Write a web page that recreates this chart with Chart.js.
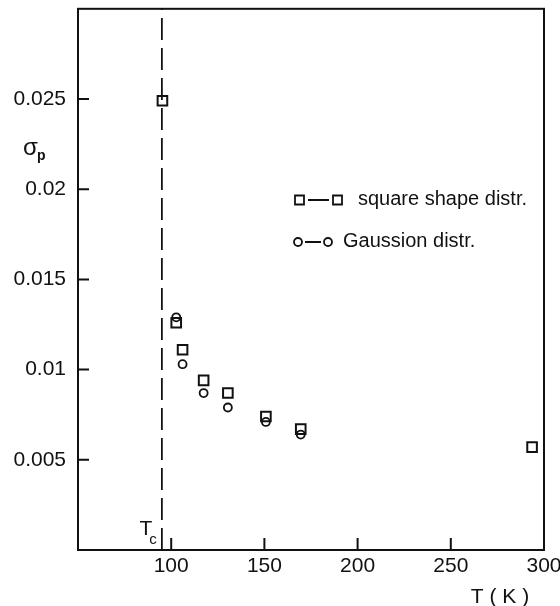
<!DOCTYPE html>
<html><head><meta charset="utf-8">
<script src="https://cdn.jsdelivr.net/npm/chart.js@4.4.1/dist/chart.umd.min.js"></script>
<style>html,body{margin:0;padding:0;background:#fff}canvas{display:block}</style>
</head><body>
<canvas id="c" width="560" height="606"></canvas>
<script>
// ---- data ----
const TC = 95;                                   // dashed critical-temperature line (K)
const squareT     = [95.3, 102.7, 106.1, 117.4, 130.4, 150.8, 169.5, 293.6];
const squareSigma = [0.0249, 0.0126, 0.0111, 0.0094, 0.0087, 0.0074, 0.0067, 0.0057];
const gaussT      = [102.7, 106.1, 117.4, 130.4, 150.8, 169.5];
const gaussSigma  = [0.0129, 0.0103, 0.0087, 0.0079, 0.0071, 0.0064];
const seriesLabels = ['square shape distr.', 'Gaussion distr.'];
const xTicks = [100, 150, 200, 250, 300];
const yTicks = [0.005, 0.01, 0.015, 0.02, 0.025];
const yTickLabels = ['0.005', '0.01', '0.015', '0.02', '0.025'];

const FONT = "'Liberation Sans', Arial, sans-serif";
const INK = '#111';

const pts = (xs, ys) => xs.map((x, i) => ({x, y: ys[i]}));
const noPad = s => { s.paddingLeft = 0; s.paddingRight = 0; s.paddingTop = 0; s.paddingBottom = 0; };

const decor = {
  id: 'decor',
  beforeDatasetsDraw(chart) {
    const {ctx, chartArea: a, scales: {x, y}} = chart;
    ctx.save();
    ctx.strokeStyle = INK;
    ctx.lineWidth = 2;
    ctx.strokeRect(a.left, a.top, a.right - a.left, a.bottom - a.top);
    ctx.beginPath();
    xTicks.forEach(v => { const px = x.getPixelForValue(v); ctx.moveTo(px, a.bottom); ctx.lineTo(px, a.bottom - 12); });
    yTicks.forEach(v => { const py = y.getPixelForValue(v); ctx.moveTo(a.left, py); ctx.lineTo(a.left + 11, py); });
    ctx.stroke();
    ctx.restore();
  },
  afterDraw(chart) {
    const {ctx} = chart;
    ctx.save();
    ctx.fillStyle = INK; ctx.strokeStyle = INK;
    ctx.textBaseline = 'middle';
    ctx.textAlign = 'left';
    ctx.font = '24px ' + FONT;
    ctx.fillText('σ', 23, 148);
    ctx.font = 'bold 14px ' + FONT;
    ctx.fillText('p', 37, 156);
    ctx.font = '21px ' + FONT;
    ctx.textAlign = 'center';
    ctx.fillText('T ( K )', 500, 597);
    ctx.font = '21px ' + FONT;
    ctx.fillText('T', 146, 529);
    ctx.font = '15px ' + FONT;
    ctx.fillText('c', 153, 540);
    // legend
    const rows = [200, 242];
    ctx.lineWidth = 1.8;
    chart.data.datasets.slice(0, 2).forEach((ds, i) => {
      const yy = rows[i];
      ctx.beginPath();
      if (ds.pointStyle === 'rect') {
        ctx.rect(295, yy - 4.5, 9, 9);
        ctx.rect(333, yy - 4.5, 9, 9);
        ctx.moveTo(308, yy); ctx.lineTo(329, yy);
      } else {
        ctx.moveTo(302, yy); ctx.arc(298, yy, 4, 0, Math.PI * 2);
        ctx.moveTo(332, yy); ctx.arc(328, yy, 4, 0, Math.PI * 2);
        ctx.moveTo(305, yy); ctx.lineTo(321, yy);
      }
      ctx.stroke();
      ctx.textAlign = 'left';
      ctx.font = '20px ' + FONT;
      ctx.fillText(ds.label, i === 0 ? 358 : 343, yy - 1);
    });
    ctx.restore();
  }
};

new Chart(document.getElementById('c'), {
  type: 'scatter',
  data: {
    datasets: [
      { label: seriesLabels[0], data: pts(squareT, squareSigma), pointStyle: 'rect',
        pointRadius: 6.8, borderColor: INK, backgroundColor: 'rgba(0,0,0,0)', borderWidth: 2, showLine: false },
      { label: seriesLabels[1], data: pts(gaussT, gaussSigma), pointStyle: 'circle',
        pointRadius: 4, borderColor: INK, backgroundColor: 'rgba(0,0,0,0)', borderWidth: 1.8, showLine: false },
      { label: 'Tc', type: 'line', data: [{x: TC, y: 0}, {x: TC, y: 0.03}], borderColor: INK,
        borderWidth: 1.8, borderDash: [22, 8], pointRadius: 0, fill: false }
    ]
  },
  options: {
    responsive: false, animation: false, devicePixelRatio: 1,
    layout: { padding: { left: 0, top: 5, right: 16, bottom: 0 } },
    plugins: { legend: { display: false }, tooltip: { enabled: false } },
    scales: {
      x: {
        type: 'linear', min: 50, max: 300,
        afterBuildTicks: s => { s.ticks = xTicks.map(v => ({value: v})); },
        afterFit: s => { s.height = 56; noPad(s); },
        grid: { display: false, drawTicks: false },
        border: { display: false },
        ticks: { color: INK, padding: 4, maxRotation: 0, font: { family: FONT, size: 21 } }
      },
      y: {
        type: 'linear', min: 0, max: 0.03,
        afterBuildTicks: s => { s.ticks = yTicks.map(v => ({value: v})); },
        afterFit: s => { s.width = 78; noPad(s); },
        grid: { display: false, drawTicks: false },
        border: { display: false },
        ticks: { color: INK, padding: 12, font: { family: FONT, size: 21 },
          callback: v => { const i = yTicks.findIndex(t => Math.abs(t - v) < 1e-9); return i >= 0 ? yTickLabels[i] : ''; } }
      }
    }
  },
  plugins: [decor]
});
</script>
</body></html>
